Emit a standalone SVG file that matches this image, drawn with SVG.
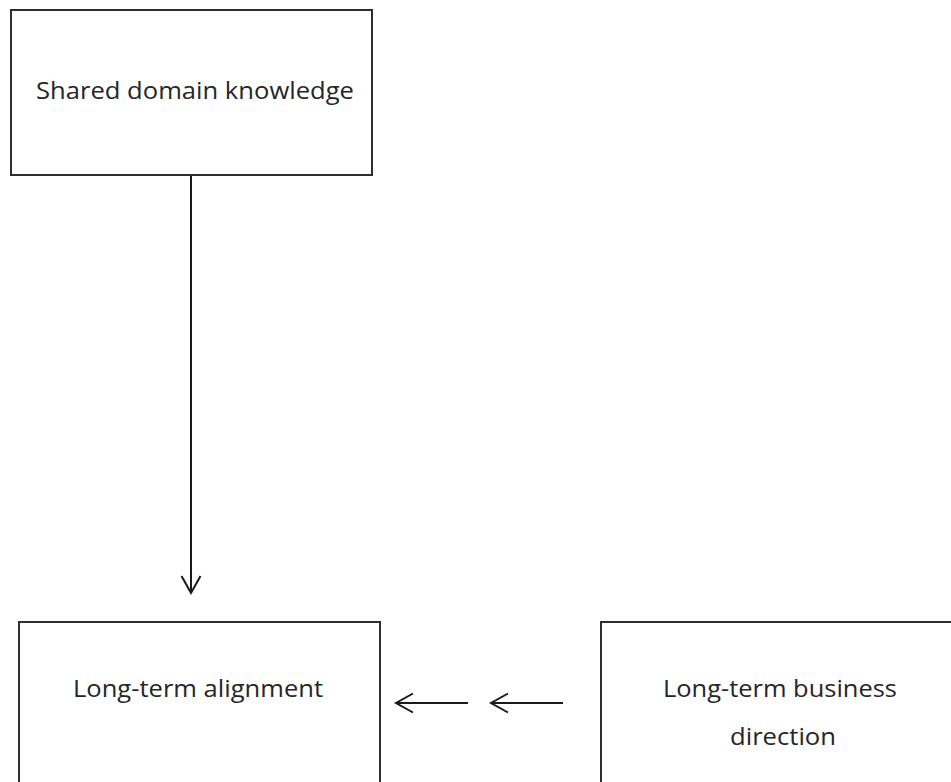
<svg xmlns="http://www.w3.org/2000/svg" width="951" height="782" viewBox="0 0 951 782">
  <defs>
    <style>
      .box { fill: #ffffff; stroke: #2e2e2e; stroke-width: 2; }
      .label { font-family: "Open Sans", "Noto Sans", sans-serif; font-size: 23px; fill: #262626; }
      .link { stroke: #1a1a1a; stroke-width: 2; fill: none; }
    </style>
    <marker id="chevron" markerUnits="userSpaceOnUse" viewBox="-19 -11 21 22" refX="0" refY="0" markerWidth="21" markerHeight="22" orient="auto" overflow="visible">
      <path d="M-17,-9.5 L0,0 L-17,9.5" fill="none" stroke="#1a1a1a" stroke-width="2"/>
    </marker>
  </defs>
  <rect width="951" height="782" fill="#ffffff"/>

  <g id="node-shared-knowledge">
    <rect class="box" x="11" y="10" width="361" height="165"/>
    <text class="label" x="36" y="99" textLength="318" lengthAdjust="spacingAndGlyphs">Shared domain knowledge</text>
  </g>

  <g id="node-alignment">
    <rect class="box" x="19" y="622" width="361" height="200"/>
    <text class="label" x="73" y="697" textLength="250" lengthAdjust="spacingAndGlyphs">Long-term alignment</text>
  </g>

  <g id="node-business-direction">
    <rect class="box" x="601" y="622" width="400" height="200"/>
    <text class="label" x="663" y="697" textLength="234" lengthAdjust="spacingAndGlyphs">Long-term business</text>
    <text class="label" x="730" y="745" textLength="106" lengthAdjust="spacingAndGlyphs">direction</text>
  </g>

  <g id="connectors">
    <line class="link" x1="191" y1="176" x2="191" y2="593" marker-end="url(#chevron)"/>
    <line class="link" x1="468" y1="703" x2="396" y2="703" marker-end="url(#chevron)"/>
    <line class="link" x1="563" y1="703" x2="491" y2="703" marker-end="url(#chevron)"/>
  </g>
</svg>
